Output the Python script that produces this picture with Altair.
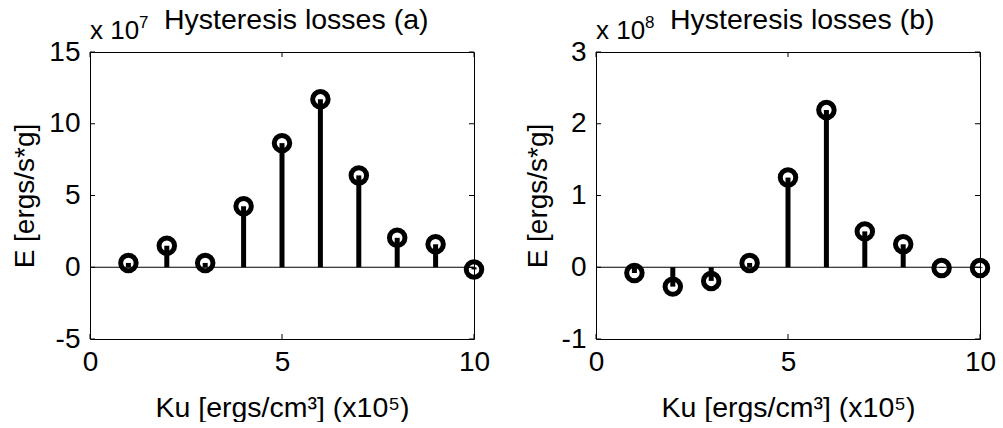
import altair as alt
import pandas as pd

# ---- data ----
ku = [1, 2, 3, 4, 5, 6, 7, 8, 9, 10]
e_a = [0.3, 1.5, 0.3, 4.25, 8.65, 11.7, 6.4, 2.05, 1.6, -0.15]   # x 10^7
e_b = [-0.08, -0.27, -0.19, 0.06, 1.25, 2.19, 0.50, 0.32, -0.01, -0.01]  # x 10^8

x_ticks = [0, 5, 10]
y_ticks_a = [-5, 0, 5, 10, 15]
y_ticks_b = [-1, 0, 1, 2, 3]
titles = ["Hysteresis losses (a)", "Hysteresis losses (b)"]
exponents = ["7", "8"]
x_title = "Ku [ergs/cm³] (x10⁵)"
y_title = "E [ergs/s*g]"

FONT = "Liberation Sans"
W, H = 384, 287
TICK_PX = 5
LABEL_EXPR = "'' + datum.value"


def panel(values, yticks, exponent, title):
    xdom = [x_ticks[0], x_ticks[-1]]
    ydom = [yticks[0], yticks[-1]]
    df = pd.DataFrame({"Ku": ku, "E": values, "zero": [0] * len(ku)})
    xs = alt.Scale(domain=xdom, nice=False, zero=False)
    ys = alt.Scale(domain=ydom, nice=False, zero=False)
    xenc = alt.X("Ku:Q", scale=xs, axis=alt.Axis(
        values=x_ticks, title=x_title, ticks=False, domain=False, grid=False,
        labelExpr=LABEL_EXPR,
        labelFont=FONT, labelFontSize=28, labelColor="black", labelPadding=9,
        labelFlush=False, labelOverlap=False,
        titleFont=FONT, titleFontSize=28.5, titleFontWeight="normal",
        titleColor="black", titlePadding=17))
    yenc = alt.Y("E:Q", scale=ys, axis=alt.Axis(
        values=yticks, title=y_title, ticks=False, domain=False, grid=False,
        labelExpr=LABEL_EXPR,
        labelFont=FONT, labelFontSize=28, labelColor="black", labelPadding=10,
        labelFlush=False, labelOverlap=False,
        titleFont=FONT, titleFontSize=28, titleFontWeight="normal",
        titleColor="black", titlePadding=9))

    base = alt.Chart(df)
    stems = base.mark_rule(color="black", strokeWidth=5).encode(
        x=xenc, y=yenc, y2="zero:Q")
    circles = base.mark_point(shape="circle", filled=False, size=240,
                              strokeWidth=5, color="black", opacity=1,
                              clip=False).encode(x="Ku:Q", y="E:Q")

    zline = alt.Chart(pd.DataFrame({"x0": [xdom[0]], "x1": [xdom[1]], "y": [0]})).mark_rule(
        color="black", strokeWidth=1).encode(x="x0:Q", x2="x1:Q", y="y:Q")

    # inward ticks (MATLAB style box ticks)
    lx = (xdom[1] - xdom[0]) * TICK_PX / W
    ly = (ydom[1] - ydom[0]) * TICK_PX / H
    tx = pd.DataFrame(
        [{"x": v, "y0": ydom[0], "y1": ydom[0] + ly} for v in x_ticks]
        + [{"x": v, "y0": ydom[1], "y1": ydom[1] - ly} for v in x_ticks])
    ty = pd.DataFrame(
        [{"y": v, "x0": xdom[0], "x1": xdom[0] + lx} for v in yticks]
        + [{"y": v, "x0": xdom[1], "x1": xdom[1] - lx} for v in yticks])
    xt = alt.Chart(tx).mark_rule(color="black", strokeWidth=1).encode(
        x="x:Q", y="y0:Q", y2="y1:Q")
    yt = alt.Chart(ty).mark_rule(color="black", strokeWidth=1).encode(
        y="y:Q", x="x0:Q", x2="x1:Q")

    mult = alt.Chart(pd.DataFrame({"t": ["x 10"]})).mark_text(
        font=FONT, fontSize=26, align="left", baseline="alphabetic",
        color="black").encode(text="t:N", x=alt.value(0), y=alt.value(-13))
    sup = alt.Chart(pd.DataFrame({"t": [exponent]})).mark_text(
        font=FONT, fontSize=17, align="left", baseline="alphabetic",
        color="black").encode(text="t:N", x=alt.value(49), y=alt.value(-24))
    ttl = alt.Chart(pd.DataFrame({"t": [title]})).mark_text(
        font=FONT, fontSize=28.5, align="left", baseline="alphabetic",
        color="black").encode(text="t:N", x=alt.value(74), y=alt.value(-23))

    return alt.layer(zline, xt, yt, stems, circles, mult, sup, ttl).properties(
        width=W, height=H)


left = panel(e_a, y_ticks_a, exponents[0], titles[0])
right = panel(e_b, y_ticks_b, exponents[1], titles[1])

chart = alt.hconcat(left, right, spacing=30).configure_view(
    stroke="black", strokeWidth=1).properties(
    background="white", padding={"left": 11, "top": 5, "right": 4, "bottom": 0})

chart.save("out.html", embed_options={"renderer": "svg", "actions": False})
